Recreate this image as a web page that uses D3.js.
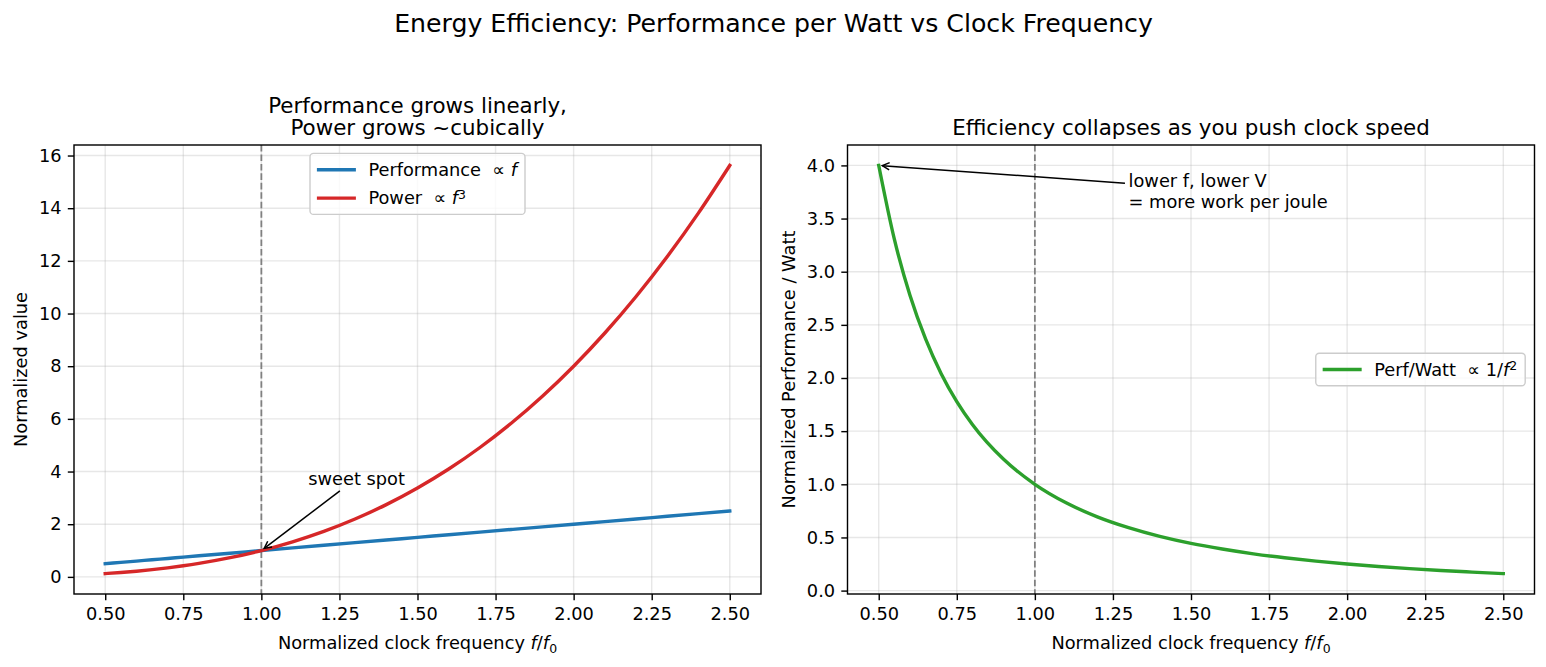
<!DOCTYPE html>
<html>
<head>
<meta charset="utf-8">
<script src="https://cdn.jsdelivr.net/npm/d3@7"></script>
<style>
body { margin: 0; background: #fff; }
svg { font-family: "DejaVu Sans", sans-serif; }
text { white-space: pre; }
</style>
</head>
<body>
<div id="chart"></div>
<script>
// values (normalized clock frequency f/f0)
var freq = [0.5, 0.55, 0.6, 0.65, 0.7, 0.75, 0.8, 0.9, 1.0, 1.1, 1.2, 1.3, 1.4, 1.5, 1.6, 1.7, 1.8, 1.9, 2.0, 2.1, 2.2, 2.3, 2.4, 2.5];
var perf = [0.5, 0.55, 0.6, 0.65, 0.7, 0.75, 0.8, 0.9, 1.0, 1.1, 1.2, 1.3, 1.4, 1.5, 1.6, 1.7, 1.8, 1.9, 2.0, 2.1, 2.2, 2.3, 2.4, 2.5];
var power = [0.125, 0.166, 0.216, 0.275, 0.343, 0.422, 0.512, 0.729, 1.0, 1.331, 1.728, 2.197, 2.744, 3.375, 4.096, 4.913, 5.832, 6.859, 8.0, 9.261, 10.648, 12.167, 13.824, 15.625];
var perfPerWatt = [4.0, 3.306, 2.778, 2.367, 2.041, 1.778, 1.563, 1.235, 1.0, 0.826, 0.694, 0.592, 0.510, 0.444, 0.391, 0.346, 0.309, 0.277, 0.250, 0.227, 0.207, 0.189, 0.174, 0.160];

var xTicks = [0.5, 0.75, 1.0, 1.25, 1.5, 1.75, 2.0, 2.25, 2.5];
var yTicksLeft = [0, 2, 4, 6, 8, 10, 12, 14, 16];
var yTicksRight = [0, 0.5, 1.0, 1.5, 2.0, 2.5, 3.0, 3.5, 4.0];

var W = 1546, H = 667;
var fs = 17.8;       // 10pt
var lw = 1.42;       // 0.8pt
var tickLen = 6.2;

var svg = d3.select("#chart").append("svg")
    .attr("width", W)
    .attr("height", H);

svg.append("text")
    .attr("x", 773.5)
    .attr("y", 31.5)
    .attr("text-anchor", "middle")
    .style("font-size", "25.2px")
    .text("Energy Efficiency: Performance per Watt vs Clock Frequency");

function rich(sel, parts) {
    parts.forEach(function (p) {
        var t = sel.append("tspan").text(p.t);
        if (p.i) t.style("font-style", "italic");
        if (p.sup) t.attr("dy", "-0.45em").style("font-size", "70%");
        if (p.sub) t.attr("dy", "0.3em").style("font-size", "70%");
    });
    return sel;
}

var xLabelParts = [{t: "Normalized clock frequency "}, {t: "f", i: true}, {t: "/"}, {t: "f", i: true}, {t: "0", sub: true}];

function panel(o) {
    var g = svg.append("g");
    var lo = d3.min(o.series, function (s) { return d3.min(s.values); });
    var hi = d3.max(o.series, function (s) { return d3.max(s.values); });
    var pad = (hi - lo) * 0.05;
    var x = d3.scaleLinear().domain([0.4, 2.6]).range([o.left, o.right]);
    var y = d3.scaleLinear().domain([lo - pad, hi + pad]).range([o.bottom, o.top]);

    // grid
    g.append("g").selectAll("line").data(xTicks).enter().append("line")
        .attr("x1", function (d) { return x(d); }).attr("x2", function (d) { return x(d); })
        .attr("y1", o.top).attr("y2", o.bottom)
        .attr("stroke", "#b0b0b0").attr("stroke-opacity", 0.3).attr("stroke-width", lw);
    g.append("g").selectAll("line").data(o.yTicks).enter().append("line")
        .attr("x1", o.left).attr("x2", o.right)
        .attr("y1", function (d) { return y(d); }).attr("y2", function (d) { return y(d); })
        .attr("stroke", "#b0b0b0").attr("stroke-opacity", 0.3).attr("stroke-width", lw);

    // reference line at f = f0
    g.append("line")
        .attr("x1", x(1)).attr("x2", x(1))
        .attr("y1", o.top).attr("y2", o.bottom)
        .attr("stroke", "#808080").attr("stroke-width", 1.78)
        .attr("stroke-dasharray", "6.6,2.85");

    var line = d3.line()
        .curve(d3.curveMonotoneX)
        .x(function (d, i) { return x(freq[i]); })
        .y(function (d) { return y(d); });

    o.series.forEach(function (s) {
        g.append("path")
            .datum(s.values)
            .attr("fill", "none")
            .attr("stroke", s.color)
            .attr("stroke-width", 3.4)
            .attr("stroke-linecap", "square")
            .attr("d", line);
    });

    // axes
    var xa = g.append("g")
        .attr("transform", "translate(0," + o.bottom + ")")
        .call(d3.axisBottom(x).tickValues(xTicks).tickFormat(d3.format(".2f"))
            .tickSize(tickLen).tickSizeOuter(0).tickPadding(7.5));
    var ya = g.append("g")
        .attr("transform", "translate(" + o.left + ",0)")
        .call(d3.axisLeft(y).tickValues(o.yTicks).tickFormat(o.yFmt)
            .tickSize(tickLen).tickSizeOuter(0).tickPadding(6.2));
    [xa, ya].forEach(function (a) {
        a.select(".domain").remove();
        a.selectAll("line").attr("stroke", "#000").attr("stroke-width", lw);
        a.selectAll("text").attr("fill", "#000").style("font-size", fs + "px")
            .style("font-family", "DejaVu Sans");
    });

    // frame
    g.append("rect")
        .attr("x", o.left).attr("y", o.top)
        .attr("width", o.right - o.left).attr("height", o.bottom - o.top)
        .attr("fill", "none").attr("stroke", "#000").attr("stroke-width", lw);

    // titles and labels
    var cx = (o.left + o.right) / 2;
    var tt = g.append("text")
        .attr("text-anchor", "middle")
        .style("font-size", "21.4px");
    o.title.forEach(function (t, i) {
        tt.append("tspan")
            .attr("x", cx)
            .attr("y", 135 - (o.title.length - 1 - i) * 21.7)
            .text(t);
    });
    rich(g.append("text")
        .attr("x", cx).attr("y", 649)
        .attr("text-anchor", "middle")
        .style("font-size", fs + "px"), xLabelParts);
    g.append("text")
        .attr("transform", "translate(" + o.yLabelX + "," + (o.top + o.bottom) / 2 + ") rotate(-90)")
        .attr("text-anchor", "middle")
        .style("font-size", fs + "px")
        .text(o.yLabel);

    // legend
    var lg = g.append("g");
    var frame = lg.append("rect");
    var rows = o.series.map(function (s, i) {
        var ry = 16.3 + i * 28.4;
        lg.append("line")
            .attr("x1", 8.6).attr("x2", 8.6 + 35.6)
            .attr("y1", ry).attr("y2", ry)
            .attr("stroke", s.color).attr("stroke-width", 3.4)
            .attr("stroke-linecap", "square");
        return rich(lg.append("text")
            .attr("x", 8.6 + 35.6 + 14.2)
            .attr("y", ry + 6.3)
            .style("font-size", fs + "px"), s.label);
    });
    var tw = d3.max(rows, function (r) { return r.node().getComputedTextLength(); });
    var bw = 8.6 + 35.6 + 14.2 + tw + 8;
    var bh = 32.6 + (o.series.length - 1) * 28.4;
    frame.attr("width", bw).attr("height", bh).attr("rx", 3.5)
        .attr("fill", "#fff").attr("fill-opacity", 0.8)
        .attr("stroke", "#cccccc").attr("stroke-width", 1.4);
    var lx, ly;
    if (o.legendLoc === "upper center") {
        lx = cx - bw / 2;
        ly = o.top + 8.4;
    } else {
        lx = o.right - 9.3 - bw;
        ly = (o.top + o.bottom) / 2 - bh / 2;
    }
    lg.attr("transform", "translate(" + lx + "," + ly + ")");

    // annotation
    var a = o.note;
    var tx = x(a.xytext[0]), ty = y(a.xytext[1]);
    var nt = g.append("text").style("font-size", fs + "px");
    a.lines.forEach(function (l, i) {
        nt.append("tspan")
            .attr("x", tx)
            .attr("y", ty - (a.lines.length - 1 - i) * 21.4)
            .text(l);
    });
    var bb = nt.node().getBBox();
    var c0 = [bb.x + bb.width / 2, bb.y + bb.height / 2];
    var p1 = [x(a.xy[0]), y(a.xy[1])];
    var dx = p1[0] - c0[0], dy = p1[1] - c0[1];
    var tEdge = Math.min(
        dx !== 0 ? (bb.width / 2) / Math.abs(dx) : Infinity,
        dy !== 0 ? (bb.height / 2) / Math.abs(dy) : Infinity);
    var len = Math.sqrt(dx * dx + dy * dy);
    var ux = dx / len, uy = dy / len;
    var shrink = 3.6;
    var s0 = [c0[0] + dx * tEdge + ux * shrink, c0[1] + dy * tEdge + uy * shrink];
    var s1 = [p1[0] - ux * shrink, p1[1] - uy * shrink];
    g.append("line")
        .attr("x1", s0[0]).attr("y1", s0[1]).attr("x2", s1[0]).attr("y2", s1[1])
        .attr("stroke", "#000").attr("stroke-width", 1.5);
    var hl = 7.1, hw = 3.6;
    g.append("path")
        .attr("d", "M" + (s1[0] - ux * hl - uy * hw) + "," + (s1[1] - uy * hl + ux * hw) +
            "L" + s1[0] + "," + s1[1] +
            "L" + (s1[0] - ux * hl + uy * hw) + "," + (s1[1] - uy * hl - ux * hw))
        .attr("fill", "none").attr("stroke", "#000").attr("stroke-width", 1.5);
}

panel({
    left: 74, right: 761, top: 145, bottom: 594,
    series: [
        {values: perf, color: "#1f77b4", label: [{t: "Performance  \u221d "}, {t: "f", i: true}]},
        {values: power, color: "#d62728", label: [{t: "Power  \u221d "}, {t: "f", i: true}, {t: "3", sup: true}]}
    ],
    yTicks: yTicksLeft,
    yFmt: d3.format("d"),
    title: ["Performance grows linearly,", "Power grows ~cubically"],
    yLabel: "Normalized value",
    yLabelX: 27,
    legendLoc: "upper center",
    note: {xy: [1.0, 1.0], xytext: [1.15, 3.5], lines: ["sweet spot"]}
});

panel({
    left: 847.5, right: 1534.5, top: 145, bottom: 594,
    series: [
        {values: perfPerWatt, color: "#2ca02c", label: [{t: "Perf/Watt  \u221d 1/"}, {t: "f", i: true}, {t: "2", sup: true}]}
    ],
    yTicks: yTicksRight,
    yFmt: d3.format(".1f"),
    title: ["Efficiency collapses as you push clock speed"],
    yLabel: "Normalized Performance / Watt",
    yLabelX: 795,
    legendLoc: "center right",
    note: {xy: [0.5, 4.0], xytext: [1.3, 3.6], lines: ["lower f, lower V", "= more work per joule"]}
});
</script>
</body>
</html>
